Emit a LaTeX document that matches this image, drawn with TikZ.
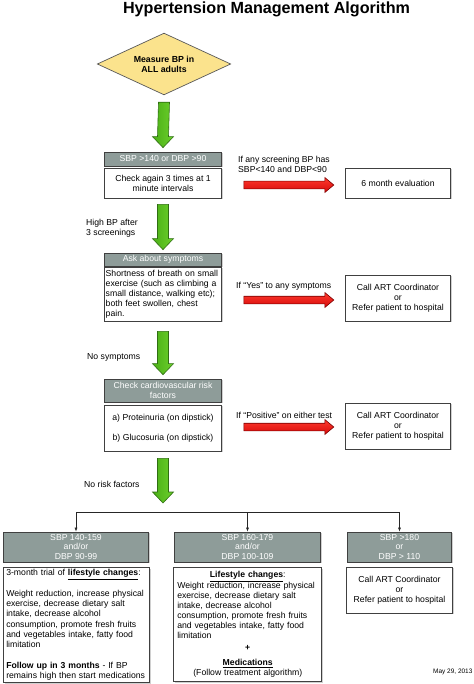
\documentclass[tikz,border=0pt]{standalone}
\usepackage{fontspec}
\setmainfont{Liberation Sans}
\usetikzlibrary{shapes.geometric,calc,shadows,arrows.meta}
\setlength{\parindent}{0pt}
\definecolor{hdrgray}{HTML}{8E9C99}
\definecolor{diafill}{HTML}{FBE38D}
\definecolor{gLight}{HTML}{95E458}
\definecolor{gMid}{HTML}{6BCF2C}
\definecolor{gDark}{HTML}{4BAF16}
\definecolor{gLine}{HTML}{2F6E12}
\definecolor{rTop}{HTML}{FF3A2E}
\definecolor{rBot}{HTML}{D60A0A}
\definecolor{rLine}{HTML}{7A0000}
\newcommand{\GreenDown}[2]{%
  \draw[garrow] ($(#1)+(-5.5,0)$) -- ($(#1)+(5.5,0)$) -- ($(#2)+(5.5,-11)$) -- ($(#2)+(10.5,-11)$) -- (#2) -- ($(#2)+(-10.5,-11)$) -- ($(#2)+(-5.5,-11)$) -- cycle;}
\newcommand{\RedRight}[2]{%
  \draw[rarrow] ($(#1)+(0,-3.8)$) -- ($(#2)+(-9,-3.8)$) -- ($(#2)+(-9,-7.5)$) -- (#2) -- ($(#2)+(-9,7.5)$) -- ($(#2)+(-9,3.8)$) -- ($(#1)+(0,3.8)$) -- cycle;}
\begin{document}
\begin{tikzpicture}[x=1bp,y=-1bp,
  every node/.style={font=\fontsize{8.7}{10}\selectfont, inner sep=0pt},
  shad/.style={drop shadow={opacity=0.3, shadow xshift=1.3pt, shadow yshift=-1.3pt, fill=black!60}},
  hdr/.style={draw=black!75, line width=0.8pt, fill=hdrgray, text=white, align=center, shad},
  wbox/.style={draw=black!75, line width=0.8pt, fill=white, align=center, shad},
  lbl/.style={anchor=west, align=left},
  garrow/.style={draw=gLine, line width=0.6pt, left color=gDark, middle color=gLight, right color=gMid},
  rarrow/.style={draw=rLine, line width=0.6pt, top color=rTop, bottom color=rBot},
  conn/.style={draw=black!85, line width=0.6pt},
  tip/.style={-{Latex[length=4pt,width=3pt]}}
]
\useasboundingbox (0,0) rectangle (474,684);
\fill[white] (0,0) rectangle (474,684);

\node[font=\fontsize{16.2}{19}\selectfont\bfseries] (title) at (266.5,9.5) {Hypertension Management Algorithm};

\node[diamond, draw=black!65, line width=0.7pt, fill=diafill, minimum width=134, minimum height=62, aspect=2.16, align=center, font=\fontsize{8.8}{10}\selectfont\bfseries] (dia) at (164,64) {Measure BP in\\ALL adults};

% column 1
\node[hdr, minimum width=118, minimum height=14] (h1) at (163,159) {SBP >140 or DBP >90};
\node[wbox, minimum width=118, minimum height=30] (b1) at (163,183) {Check again 3 times at 1\\minute intervals};
\node[wbox, minimum width=106, minimum height=30] (eval) at (398,183) {6 month evaluation};

\node[hdr, minimum width=118, minimum height=13] (h2) at (163,259.5) {Ask about symptoms};
\node[wbox, minimum width=118, minimum height=54, text width=115, align=left] (b2) at (163,294) {Shortness of breath on small\\exercise (such as climbing a\\small distance, walking etc);\\both feet swollen, chest\\pain.};
\node[wbox, minimum width=106, minimum height=46] (call1) at (398,298) {Call ART Coordinator\\or\\Refer patient to hospital};

\node[hdr, minimum width=118, minimum height=23] (h3) at (163,390.5) {Check cardiovascular risk\\factors};
\node[wbox, minimum width=118, minimum height=46] (b3) at (163,428) {a) Proteinuria (on dipstick)\\[10pt]b) Glucosuria (on dipstick)};
\node[wbox, minimum width=106, minimum height=46] (call2) at (398,426) {Call ART Coordinator\\or\\Refer patient to hospital};

% labels
\node[lbl] (l1) at (238,164.5) {If any screening BP has\\SBP<140 and DBP<90};
\node[lbl] (l2) at (86,228.5) {High BP after\\3 screenings};
\node[lbl] (l3) at (236,286) {If ``Yes'' to any symptoms};
\node[lbl] (l4) at (87,357) {No symptoms};
\node[lbl] (l5) at (236,415) {If ``Positive'' on either test};
\node[lbl] (l6) at (84,484) {No risk factors};

% bottom row
\node[hdr, minimum width=146, minimum height=30] (hA) at (76,547) {SBP 140-159\\and/or\\DBP 90-99};
\node[hdr, minimum width=147, minimum height=30] (hB) at (247.5,547) {SBP 160-179\\and/or\\DBP 100-109};
\node[hdr, minimum width=105, minimum height=30] (hC) at (399.5,547) {SBP >180\\or\\DBP > 110};

\node[wbox, minimum width=147, minimum height=116, text width=141, align=left, font=\fontsize{8.7}{10.3}\selectfont] (bA) at (76.5,625) {3-month trial of \textbf{\underline{lifestyle changes}}:\\[10.3pt]Weight reduction, increase physical\\exercise, decrease dietary salt\\intake, decrease alcohol\\consumption, promote fresh fruits\\and vegetables intake, fatty food\\limitation\\[10.3pt]\textbf{Follow up in 3 months} - If BP\\remains high then start medications};
\node[wbox, minimum width=149, minimum height=115, text width=141, align=left] (bB) at (247.5,624.5) {\makebox[141bp][c]{\textbf{\underline{Lifestyle changes}}:}\\Weight reduction, increase physical\\exercise, decrease dietary salt\\intake, decrease alcohol\\consumption, promote fresh fruits\\and vegetables intake, fatty food\\limitation\\[2pt]\makebox[141bp][c]{\textbf{+}}\\[5pt]\makebox[141bp][c]{\textbf{\underline{Medications}}}\\\makebox[141bp][c]{(Follow treatment algorithm)}};
\node[wbox, minimum width=107, minimum height=46] (bC) at (399.5,590) {Call ART Coordinator\\or\\Refer patient to hospital};

\node[anchor=west, font=\fontsize{6.5}{7}\selectfont] (date) at (433,672) {May 29, 2013};

% green arrows
\coordinate (g1a) at ($(dia.south)+(0,7)$);
\coordinate (g1b) at ($(h1.north)+(0,-4)$);
\GreenDown{g1a}{g1b}
\coordinate (g2a) at ($(b1.south)+(0,6)$);
\coordinate (g2b) at ($(h2.north)+(0,-3)$);
\GreenDown{g2a}{g2b}
\coordinate (g3a) at ($(b2.south)+(0,10)$);
\coordinate (g3b) at ($(h3.north)+(0,-4)$);
\GreenDown{g3a}{g3b}
\coordinate (g4a) at ($(b3.south)+(0,7)$);
\coordinate (g4b) at (163,503);
\GreenDown{g4a}{g4b}

% red arrows
\coordinate (r1a) at ($(eval.west)+(-101,2)$);
\coordinate (r1b) at ($(eval.west)+(-11,2)$);
\RedRight{r1a}{r1b}
\coordinate (r2a) at ($(call1.west)+(-101,2)$);
\coordinate (r2b) at ($(call1.west)+(-11,2)$);
\RedRight{r2a}{r2b}
\coordinate (r3a) at ($(call2.west)+(-101,1)$);
\coordinate (r3b) at ($(call2.west)+(-11,1)$);
\RedRight{r3a}{r3b}

% branching connector
\coordinate (brL) at (hA.north |- 0,512);
\coordinate (brM) at (hB.north |- 0,512);
\coordinate (brR) at (hC.north |- 0,512);
\draw[conn] (brL) -- (brR);
\draw[conn,tip] (brL) -- (hA.north);
\draw[conn,tip] (brM) -- (hB.north);
\draw[conn,tip] (brR) -- (hC.north);
\end{tikzpicture}
\end{document}
